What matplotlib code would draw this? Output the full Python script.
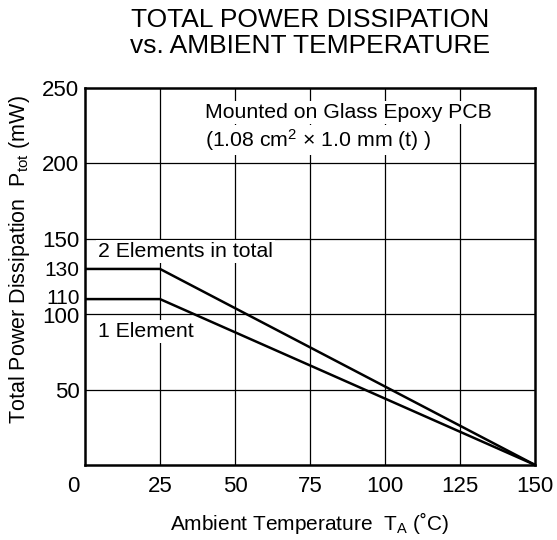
import matplotlib
matplotlib.use("Agg")
import matplotlib.pyplot as plt
import matplotlib.transforms as mtransforms

plt.rcParams['font.family'] = ['Liberation Sans', 'DejaVu Sans']
plt.rcParams['mathtext.fontset'] = 'custom'
plt.rcParams['mathtext.rm'] = 'Liberation Sans'
plt.rcParams['mathtext.it'] = 'Liberation Sans'
plt.rcParams['mathtext.bf'] = 'Liberation Sans:bold'

# data
temp_two = [0, 25, 150]
power_two = [130, 130, 0]
temp_one = [0, 25, 150]
power_one = [110, 110, 0]
xticks = [0, 25, 50, 75, 100, 125, 150]
yticks = [50, 100, 110, 130, 150, 200, 250]
ygrid = [50, 100, 150, 200]
xgrid = [25, 50, 75, 100, 125]

fig = plt.figure(figsize=(5.57, 5.40), dpi=100)
ax = fig.add_axes([0.1526, 0.139, 0.808, 0.698])
ax.set_xlim(0, 150)
ax.set_ylim(0, 250)

for g in xgrid:
    ax.axvline(g, color='black', lw=0.9, zorder=1)
for g in ygrid:
    ax.axhline(g, color='black', lw=0.9, zorder=1)

ax.plot(temp_two, power_two, color='black', lw=1.8, zorder=3)
ax.plot(temp_one, power_one, color='black', lw=1.8, zorder=3)

for s in ax.spines.values():
    s.set_linewidth(1.8)

ax.set_xticks(xticks)
ax.set_yticks(yticks)
ax.tick_params(length=0, labelsize=16)
ax.tick_params(axis='y', pad=4)
ax.tick_params(axis='x', pad=8)

# shift the "0" x label left of the frame, as in the reference
lbl0 = ax.get_xticklabels()[0]
lbl0.set_transform(lbl0.get_transform() + mtransforms.ScaledTranslation(-12 / 100, 0, fig.dpi_scale_trans))

# slightly smaller labels for the plateau values, nudged apart as in the reference
for lbl, val in zip(ax.get_yticklabels(), yticks):
    if val in (110, 130):
        lbl.set_fontsize(15)
    if val == 110:
        lbl.set_transform(lbl.get_transform() + mtransforms.ScaledTranslation(0, 2.5 / 100, fig.dpi_scale_trans))
    if val == 100:
        lbl.set_transform(lbl.get_transform() + mtransforms.ScaledTranslation(0, -1 / 100, fig.dpi_scale_trans))

bbox = dict(facecolor='white', edgecolor='none', pad=1.5)
fs = 15.3
ax.text(4.4, 137.9, "2 Elements in total", fontsize=fs, va='baseline', ha='left', bbox=bbox, zorder=2)
ax.text(4.4, 84.9, "1 Element", fontsize=fs, va='baseline', ha='left', bbox=bbox, zorder=2)
ax.text(40, 230.1, "Mounted on Glass Epoxy PCB", fontsize=fs, va='baseline', ha='left', bbox=bbox, zorder=2)
ax.text(40, 210.9, "(1.08 cm$^2$ × 1.0 mm (t) )", fontsize=fs, va='baseline', ha='left', bbox=bbox, zorder=2)

ax.set_xlabel(r"Ambient Temperature  T$_{\rm A}$ (˚C)", fontsize=15, labelpad=9)
ax.set_ylabel(r"Total Power Dissipation  P$_{\rm tot}$ (mW)", fontsize=15.5)
ax.yaxis.set_label_coords(-0.118, 0.544)

fig.text(0.557, 0.939, "TOTAL POWER DISSIPATION\nvs. AMBIENT TEMPERATURE", ha='center', va='center',
         fontsize=19, linespacing=1.1)

fig.savefig("out.png", dpi=100)
